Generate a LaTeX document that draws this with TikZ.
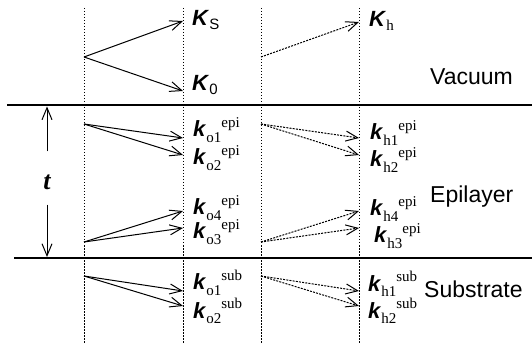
\documentclass[tikz,border=0pt]{standalone}
\usepackage{fontspec}
\setmainfont{Liberation Sans}
\newfontfamily\idxfont{Liberation Serif}
\usetikzlibrary{arrows.meta, positioning}
\tikzset{
  wavevec/.style={line width=1pt, -{Straight Barb[length=12pt,width=10pt]}},
  hvec/.style={wavevec, dash pattern=on 2pt off 1.2pt},
  boundary/.style={line width=2pt},
  guide/.style={line width=1pt, dash pattern=on 1.5pt off 1.5pt},
  layertext/.style={font=\fontsize{23}{25}\selectfont, anchor=base west, inner sep=0pt},
  klabel/.style={font=\fontsize{22}{24}\selectfont, anchor=base west, inner sep=0pt}
}
\newcommand{\bigvec}[1]{\textbf{\textit{K}}\raisebox{-0.3ex}{\fontsize{15}{15}\selectfont #1}}
\newcommand{\smallvec}[2]{\textbf{\textit{k}}\raisebox{-0.45ex}{\idxfont\fontsize{15}{15}\selectfont #1}\raisebox{0.8ex}{\idxfont\fontsize{15}{15}\selectfont #2}}

\begin{document}
\begin{tikzpicture}[x=1pt, y=-1pt]
  \useasboundingbox (0,0) rectangle (532,344);
  % dotted guides
  \foreach \gx/\gn in {84/a, 183/b, 261/c, 359/d} {
    \coordinate (top\gn) at (\gx,8);
    \coordinate (bot\gn) at (\gx,344);
    \draw[guide] (top\gn) -- (bot\gn);
  }
  % interfaces
  \coordinate (surfL) at (7,105);
  \coordinate (surfR) at (532,105);
  \coordinate (intL) at (14,258);
  \coordinate (intR) at (532,258);
  \draw[boundary] (surfL) -- (surfR);
  \draw[boundary] (intL) -- (intR);

  % thickness of the epilayer
  \node[inner sep=1pt, font=\idxfont\fontsize{26}{26}\selectfont\bfseries\itshape] (thick) at (47,182) {t};
  \coordinate (tTop) at (47,106.5);
  \coordinate (tBot) at (47,257);
  \draw[wavevec, shorten <=22pt] (thick) -- (tTop);
  \draw[wavevec, shorten <=14pt] (thick) -- (tBot);

  % vacuum
  \coordinate (vacO) at (84,57);
  \coordinate (tipS) at (183,21);
  \coordinate (tip0) at (183,91);
  \coordinate (vacH) at (261,57);
  \coordinate (tipH) at (359,22);
  \draw[wavevec] (vacO) -- (tipS);
  \draw[wavevec] (vacO) -- (tip0);
  \draw[hvec] (vacH) -- (tipH);
  \node[klabel] (KS) at (192,26) {\bigvec{S}};
  \node[klabel] (K0) at (192,91) {\bigvec{0}};
  \node[klabel] (Kh) at (369,27) {\bigvec{\idxfont h}};

  % epilayer and substrate pairs
  \foreach \nm/\oy/\ta/\tb in {eu/124/138/155, el/242/228/211, sb/276/291/306} {
    \coordinate (o\nm) at (84,\oy);
    \coordinate (h\nm) at (261,\oy);
    \coordinate (oa\nm) at (183,\ta);
    \coordinate (ob\nm) at (183,\tb);
    \coordinate (ha\nm) at (359,\ta);
    \coordinate (hb\nm) at (359,\tb);
    \draw[wavevec] (o\nm) -- (oa\nm);
    \draw[wavevec] (o\nm) -- (ob\nm);
    \draw[hvec] (h\nm) -- (ha\nm);
    \draw[hvec] (h\nm) -- (hb\nm);
  }
  \node[klabel] (ko1e) at (193,137) {\smallvec{o1}{epi}};
  \node[klabel] (ko2e) at (193,165) {\smallvec{o2}{epi}};
  \node[klabel] (ko4e) at (193,215) {\smallvec{o4}{epi}};
  \node[klabel] (ko3e) at (193,239) {\smallvec{o3}{epi}};
  \node[klabel] (kh1e) at (370,140) {\smallvec{h1}{epi}};
  \node[klabel] (kh2e) at (370,167) {\smallvec{h2}{epi}};
  \node[klabel] (kh4e) at (370,216) {\smallvec{h4}{epi}};
  \node[klabel] (kh3e) at (374,243) {\smallvec{h3}{epi}};
  \node[klabel] (ko1s) at (193,290) {\smallvec{o1}{sub}};
  \node[klabel] (ko2s) at (193,318) {\smallvec{o2}{sub}};
  \node[klabel] (kh1s) at (368,291) {\smallvec{h1}{sub}};
  \node[klabel] (kh2s) at (368,318) {\smallvec{h2}{sub}};

  % layer names
  \node[layertext] (vac) at (430,85) {Vacuum};
  \node[layertext] (epi) at (430,203) {Epilayer};
  \node[layertext] (sub) at (424,298) {Substrate};
\end{tikzpicture}
\end{document}
